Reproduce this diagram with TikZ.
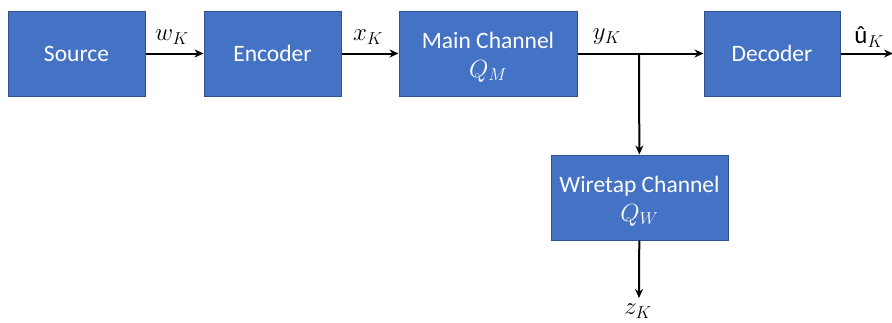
\documentclass[tikz,border=0pt]{standalone}
\usepackage{fontspec}
\setmainfont{Carlito}
\usetikzlibrary{arrows.meta}
\definecolor{boxfill}{HTML}{4472C4}
\definecolor{boxline}{HTML}{2F528F}
\newcommand{\lowstrut}{\rule{0pt}{23pt}}
\begin{document}
\begin{tikzpicture}[x=1pt,y=-1pt,
  blk/.style={rectangle,draw=boxline,line width=1pt,fill=boxfill,text=white,
    minimum height=85pt,inner sep=0pt,align=center,font=\fontsize{23.5}{28}\selectfont},
  conn/.style={line width=2pt,-{Stealth[length=9pt,width=8pt]}},
  lbl/.style={font=\fontsize{25}{28}\selectfont,inner sep=0pt}]
\useasboundingbox (0,0) rectangle (892,322);
\node[blk,minimum width=137pt] (src) at (76.5,53.5) {Source};
\node[blk,minimum width=137pt] (enc) at (272.5,53.5) {Encoder};
\node[blk,minimum width=178pt] (mc) at (488,53.5) {\lowstrut Main Channel\\[1pt]{\fontsize{26}{28}\selectfont$Q_M$}};
\node[blk,minimum width=136pt] (dec) at (772,53.5) {Decoder};
\node[blk,minimum width=177pt] (wt) at (639.5,197.5) {\lowstrut Wiretap Channel\\[1pt]{\fontsize{26}{28}\selectfont$Q_W$}};
\coordinate (br) at (639,53.5);
\coordinate (out) at (893,53.5);
\coordinate (zend) at (639,298);
\draw[conn] (src) -- (enc);
\draw[conn] (enc) -- (mc);
\draw[conn] (mc) -- (dec);
\draw[conn] (br) -- (wt);
\draw[conn] (dec) -- (out);
\draw[conn] (wt) -- (zend);
\node[lbl] (lw) at (172,37) {$w_K$};
\node[lbl] (lx) at (368,37) {$x_K$};
\node[lbl] (ly) at (607,37) {$y_K$};
\node[lbl] (lu) at (869,37) {û$_K$};
\node[lbl] (lz) at (638,311) {$z_K$};
\end{tikzpicture}
\end{document}
